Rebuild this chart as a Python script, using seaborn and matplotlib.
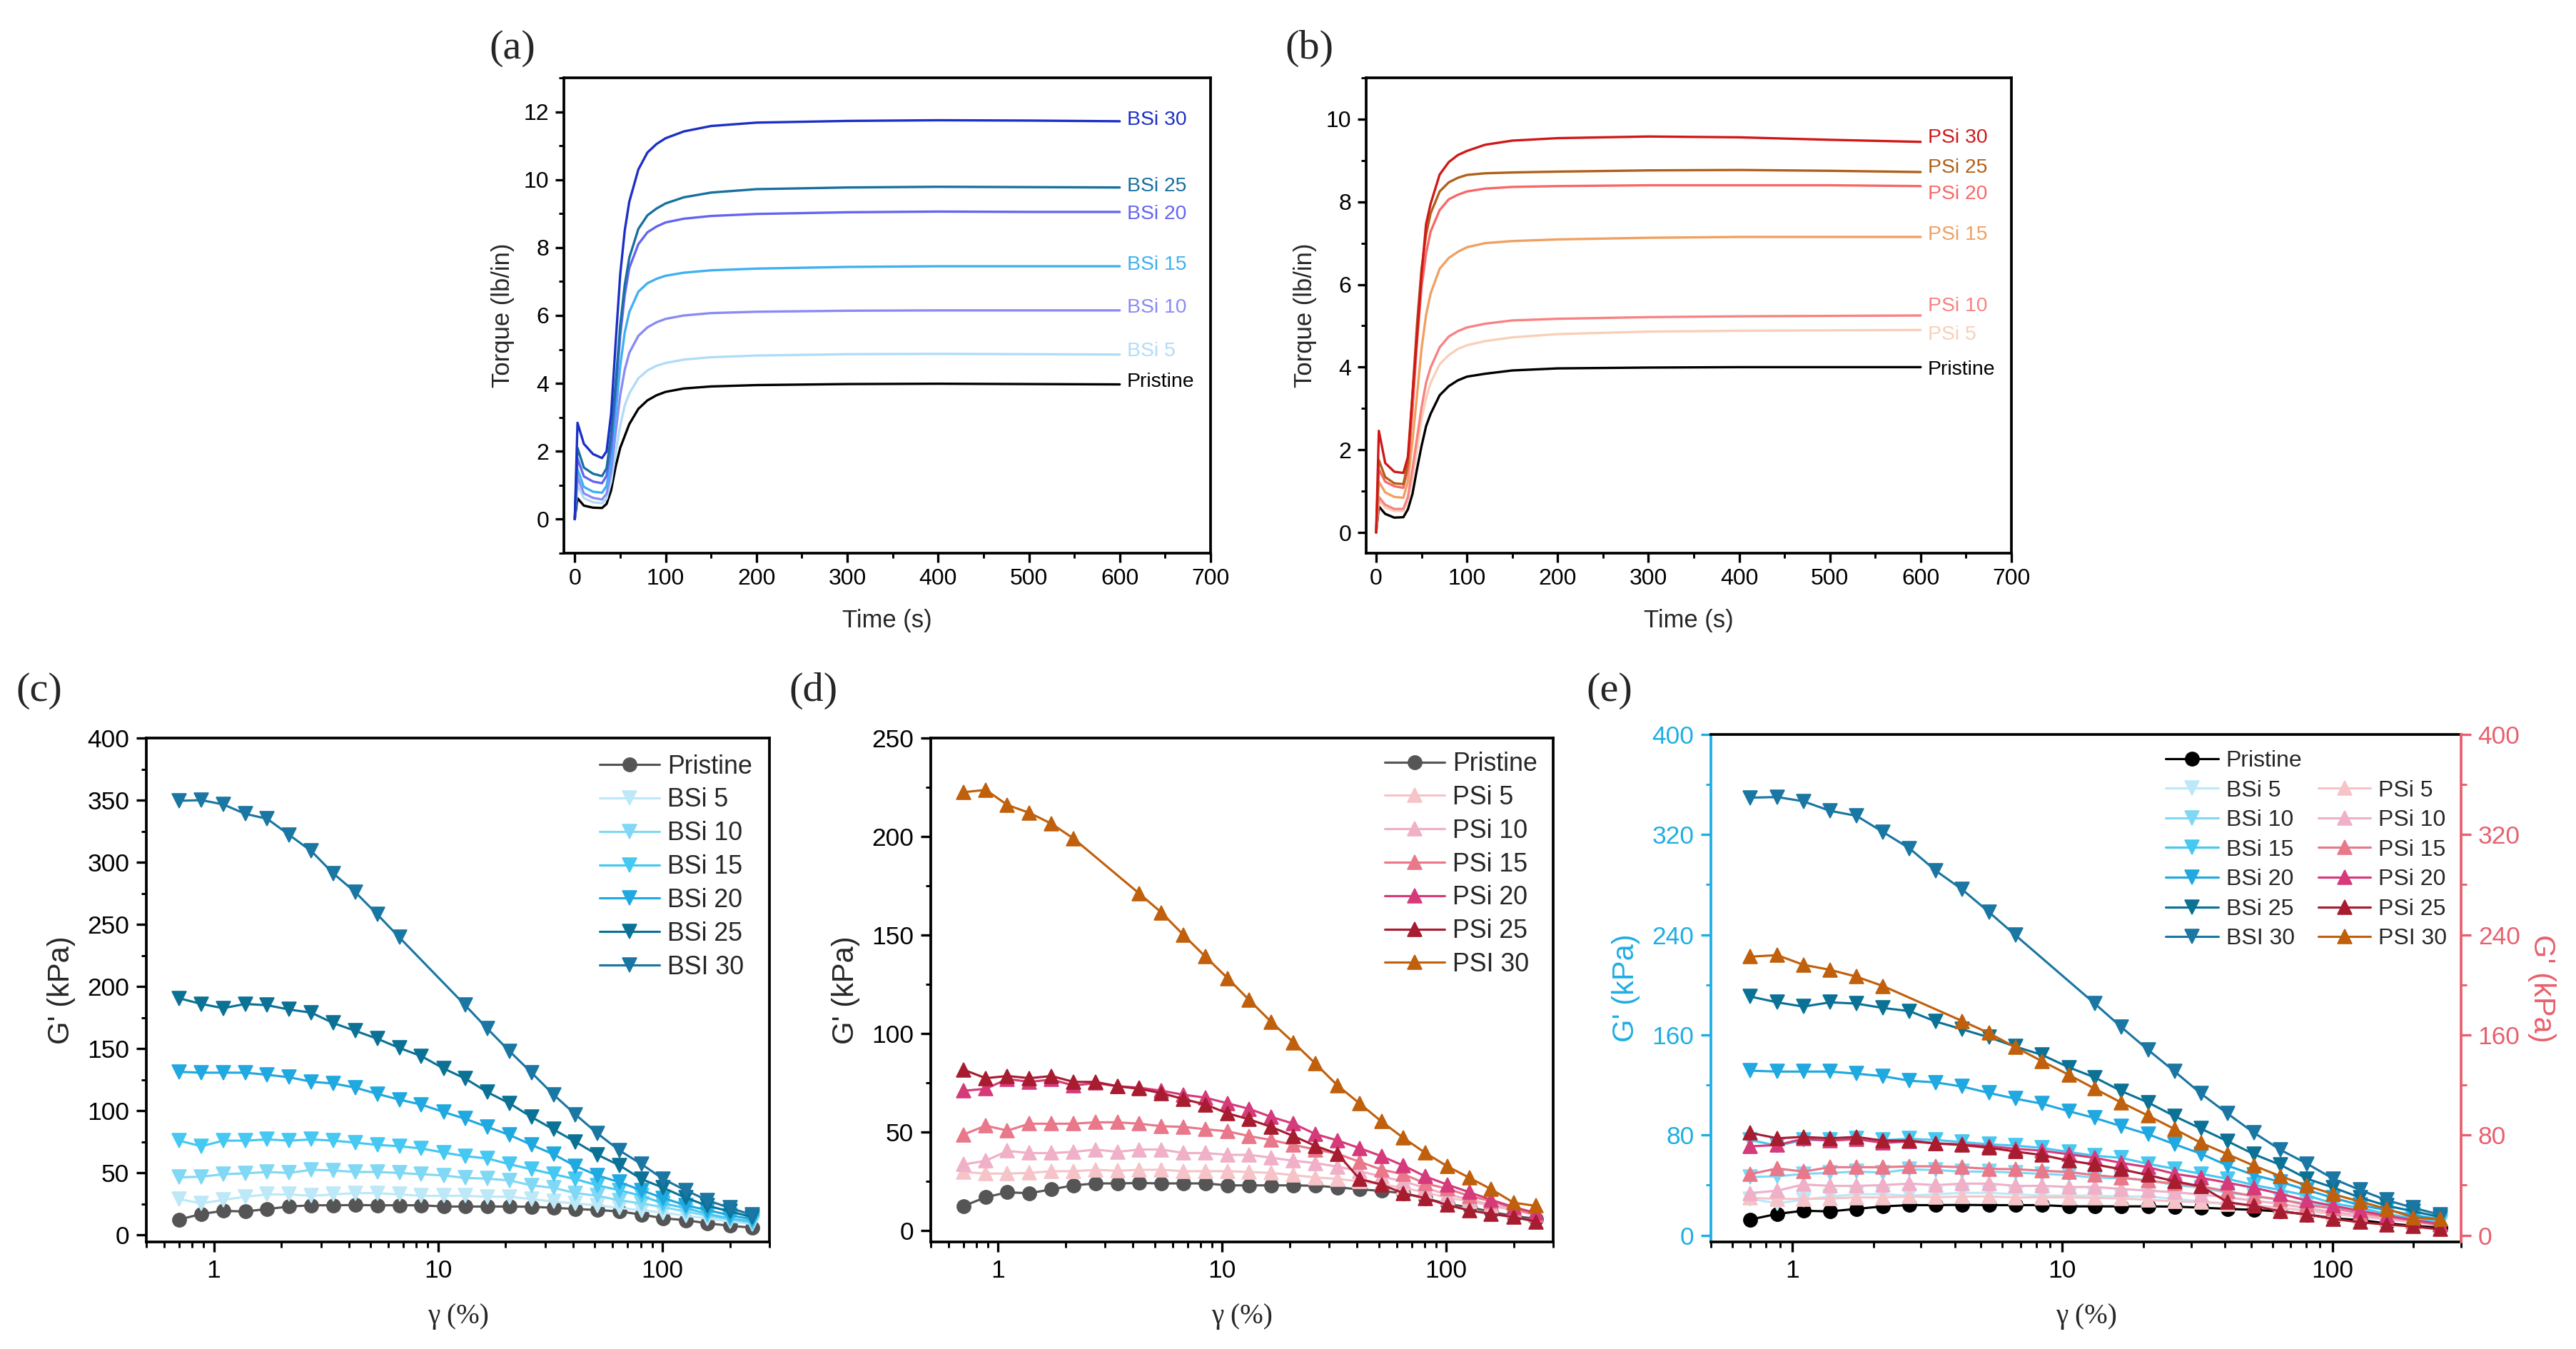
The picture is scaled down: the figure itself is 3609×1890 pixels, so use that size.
import numpy as np
import pandas as pd
import matplotlib
matplotlib.use("Agg")
import matplotlib.pyplot as plt
import matplotlib.ticker as mticker
from matplotlib.lines import Line2D
import seaborn as sns

# ---------------- data: cure curves (torque vs time) ----------------
time_s = [0, 3, 10, 20, 30, 35, 40, 45, 50, 55, 60, 70, 80, 90, 100, 120, 150, 200, 300, 400, 500, 600]

bsi_names = ["Pristine", "BSi 5", "BSi 10", "BSi 15", "BSi 20", "BSi 25", "BSi 30"]
torque_pristine_a = [0, 0.62, 0.40, 0.34, 0.33, 0.45, 0.85, 1.55, 2.10, 2.45, 2.80, 3.25, 3.50, 3.65, 3.75, 3.85, 3.91, 3.95, 3.98, 3.99, 3.98, 3.97]
torque_bsi5 = [0, 1.00, 0.62, 0.50, 0.47, 0.60, 1.10, 1.95, 2.75, 3.35, 3.70, 4.15, 4.38, 4.52, 4.60, 4.70, 4.77, 4.82, 4.86, 4.87, 4.86, 4.85]
torque_bsi10 = [0, 1.24, 0.76, 0.63, 0.58, 0.75, 1.40, 2.55, 3.65, 4.40, 4.90, 5.40, 5.65, 5.80, 5.90, 6.00, 6.07, 6.11, 6.14, 6.15, 6.15, 6.15]
torque_bsi15 = [0, 1.47, 0.95, 0.81, 0.78, 0.98, 1.75, 3.10, 4.50, 5.50, 6.10, 6.70, 6.95, 7.08, 7.17, 7.26, 7.33, 7.38, 7.43, 7.45, 7.45, 7.45]
torque_bsi20 = [0, 1.79, 1.26, 1.11, 1.06, 1.28, 2.10, 3.70, 5.40, 6.60, 7.40, 8.10, 8.45, 8.62, 8.74, 8.85, 8.93, 8.99, 9.04, 9.06, 9.05, 9.05]
torque_bsi25 = [0, 2.10, 1.52, 1.34, 1.27, 1.50, 2.50, 4.00, 5.70, 6.90, 7.70, 8.55, 8.95, 9.15, 9.30, 9.48, 9.62, 9.72, 9.77, 9.79, 9.78, 9.77]
torque_bsi30 = [0, 2.84, 2.22, 1.92, 1.80, 2.00, 3.10, 5.20, 7.20, 8.50, 9.35, 10.30, 10.80, 11.05, 11.22, 11.42, 11.58, 11.68, 11.73, 11.75, 11.74, 11.72]
bsi_label_y = [4.04, 4.94, 6.24, 7.50, 8.98, 9.80, 11.75]

psi_names = ["Pristine", "PSi 5", "PSi 10", "PSi 15", "PSi 20", "PSi 25", "PSi 30"]
torque_pristine_b = [0, 0.63, 0.45, 0.36, 0.37, 0.56, 0.93, 1.53, 2.09, 2.57, 2.87, 3.32, 3.54, 3.68, 3.77, 3.84, 3.92, 3.97, 3.99, 4.00, 4.00, 4.00]
torque_psi5 = [0, 0.78, 0.60, 0.52, 0.52, 0.78, 1.30, 1.98, 2.72, 3.25, 3.62, 4.07, 4.29, 4.44, 4.53, 4.63, 4.72, 4.80, 4.86, 4.88, 4.89, 4.90]
torque_psi10 = [0, 0.86, 0.67, 0.57, 0.57, 0.86, 1.53, 2.28, 3.02, 3.62, 3.99, 4.48, 4.74, 4.87, 4.96, 5.05, 5.13, 5.17, 5.21, 5.23, 5.24, 5.25]
torque_psi15 = [0, 1.23, 0.97, 0.86, 0.84, 1.23, 2.20, 3.32, 4.44, 5.26, 5.78, 6.38, 6.64, 6.79, 6.90, 7.00, 7.05, 7.09, 7.13, 7.15, 7.15, 7.15]
torque_psi20 = [0, 1.53, 1.23, 1.12, 1.08, 1.53, 2.95, 4.59, 5.93, 6.75, 7.28, 7.80, 8.06, 8.17, 8.25, 8.32, 8.36, 8.38, 8.40, 8.40, 8.40, 8.38]
torque_psi25 = [0, 1.75, 1.34, 1.19, 1.17, 1.68, 3.32, 5.04, 6.38, 7.20, 7.72, 8.25, 8.47, 8.58, 8.65, 8.69, 8.71, 8.73, 8.76, 8.77, 8.75, 8.72]
torque_psi30 = [0, 2.46, 1.68, 1.47, 1.44, 1.83, 3.32, 4.74, 6.23, 7.46, 7.95, 8.66, 8.96, 9.13, 9.23, 9.38, 9.48, 9.54, 9.58, 9.56, 9.50, 9.45]
psi_label_y = [3.93, 4.78, 5.47, 7.20, 8.18, 8.82, 9.55]

# ---------------- data: strain sweeps (G' vs strain) ----------------
nan = np.nan
strain = [0.70, 0.88, 1.10, 1.38, 1.73, 2.17, 2.72, 3.41, 4.27, 5.36, 6.72, 8.42, 10.6, 13.2,
          16.6, 20.8, 26.1, 32.7, 41.0, 51.4, 64.5, 80.8, 101, 127, 159, 200, 251]
g_pristine = [12.5, 17, 19.5, 19, 21, 23, 24, 24, 24.2, 24, 24, 24, 23, 23, 23, 23, 22.8, 22, 21, 20.2, 19, 16.5, 13.5, 12, 9.5, 7.5, 6]
g_bsi5 = [29, 25.5, 28.3, 30.9, 32.7, 32.7, 31.6, 32.7, 33.8, 33.8, 32.7, 31.6, 31.6, 31.6, 30.9, 30.9, 29, 27, 25.4, 24, 21.8, 20, 18, 15.6, 13.4, 11, 9]
g_bsi10 = [46.5, 47, 49, 49.7, 50.8, 50, 52.6, 52, 50.8, 50.8, 50, 49, 48, 46, 45.4, 44, 40, 38, 33.8, 31.6, 28, 25.4, 22.5, 19, 15.6, 12.7, 10]
g_bsi15 = [76, 71.5, 76, 76, 77, 76, 77, 76, 74.4, 72.6, 71.5, 69.7, 66.4, 63.5, 61.7, 57, 53, 49, 45, 40, 36, 31.6, 25.4, 21.8, 17, 13.4, 11]
g_bsi20 = [131.4, 130.7, 130.7, 130.7, 129, 127, 123.4, 122, 118.7, 113.6, 109, 105, 99, 93.6, 87, 80.6, 72.6, 65, 55.5, 48, 42.5, 36, 29.8, 24, 20, 16, 12.7]
g_bsi25 = [190.6, 186, 182.6, 186, 185, 181.5, 179, 170.6, 164.4, 158, 150.6, 144, 134, 126, 115, 106, 95, 85, 75, 64.6, 56, 45, 38, 30, 23.6, 19, 14.5]
g_bsi30 = [349.5, 350, 346.6, 339, 335, 322, 309, 291, 276, 258, 239.5, nan, nan, 185, 166, 148, 130.7, 113, 97, 81.7, 68, 57, 45, 36, 28, 21.8, 16.3]
g_psi5 = [29.8, 29, 29, 29.3, 30.2, 30.2, 30.9, 30.4, 30.9, 30.9, 30.2, 30.2, 30.2, 29.8, 29.3, 28.2, 27, 26.3, 25, 23.6, 21.7, 19.5, 16.7, 14.9, 12.6, 10.3, 8]
g_psi10 = [33.6, 35.5, 40.5, 39.4, 39.4, 40, 41.2, 40, 41.2, 41.2, 39.4, 39.4, 38.5, 38.5, 37, 35.5, 34.3, 32.5, 30.2, 27.5, 25, 21.7, 18.3, 16, 13, 10.8, 8]
g_psi15 = [48.8, 53.3, 50.8, 54.3, 54.3, 54.3, 55, 55, 54.3, 53, 52.7, 51.5, 50.4, 48, 46, 43.5, 41.2, 39, 35, 31, 28.6, 24, 21.3, 17.6, 14.9, 11.4, 8]
g_psi20 = [71, 72, 77, 75.5, 76.7, 73.7, 74.9, 73.3, 72.6, 71, 69, 67.5, 64.6, 61.8, 57.7, 54.3, 49, 45.8, 41.9, 37.8, 33, 27.5, 23.4, 19.5, 15.6, 12, 9]
g_psi25 = [81.7, 77.4, 78.5, 77.4, 78.5, 75.5, 75.5, 73.3, 72, 69.8, 66.8, 64, 59.5, 56.5, 52.6, 48, 43, 39, 26.3, 23.4, 19, 16.5, 13, 10.3, 8.5, 6.9, 4.6]
g_psi30 = [222.5, 223.7, 216, 212, 206.5, 199, nan, nan, 171, 161.4, 150, 139, 128, 117, 105.8, 95.5, 84.7, 73.7, 64.6, 55.4, 47, 39.4, 32.7, 26.8, 21, 14.2, 12.6]

sweep_bsi_labels = ["Pristine", "BSi 5", "BSi 10", "BSi 15", "BSi 20", "BSi 25", "BSI 30"]
sweep_psi_labels = ["Pristine", "PSi 5", "PSi 10", "PSi 15", "PSi 20", "PSi 25", "PSI 30"]

# ---------------- styles ----------------
torque_bsi_colors = ["#000000", "#b0dcf8", "#8a8af5", "#3fb0f0", "#6464f0", "#17709f", "#1c2fc6"]
torque_psi_colors = ["#000000", "#f8d0b8", "#f88282", "#f0a060", "#f86868", "#b0601a", "#d01818"]
sweep_bsi_colors = ["#555555", "#bde8f8", "#80d8f5", "#45c8f2", "#20a8e0", "#0b7296", "#1a76a2"]
sweep_psi_colors = ["#555555", "#f6c4c8", "#efb0c8", "#e8788a", "#d63a7a", "#a81c30", "#c0600c"]
CYAN = "#1eaee3"
RED = "#e8606e"

sns.set_style("ticks")
plt.rcParams['font.family'] = ['Liberation Sans', 'DejaVu Sans']
plt.rcParams['axes.linewidth'] = 0.9
plt.rcParams['xtick.major.width'] = 0.8
plt.rcParams['ytick.major.width'] = 0.8
plt.rcParams['xtick.minor.width'] = 0.7
plt.rcParams['ytick.minor.width'] = 0.7
plt.rcParams['axes.edgecolor'] = 'black'

W, H = 3609, 1890
fig = plt.figure(figsize=(W / 300, H / 300), dpi=300)
fig.patch.set_facecolor('white')


def add_ax(l, r, t, b):
    return fig.add_axes([l / W, 1 - b / H, (r - l) / W, (b - t) / H])


SERIF = ['Liberation Serif', 'DejaVu Serif']


def style_ticks(ax, fs, major_len=3.2, minor_len=1.7, pad=2.2):
    ax.tick_params(which='both', direction='out', top=False, right=False, labelsize=fs, pad=pad, colors='black')
    ax.tick_params(which='major', length=major_len)
    ax.tick_params(which='minor', length=minor_len)


# ---------------- panels (a), (b): torque ----------------
def torque_panel(ax, names, series, colors, label_ys, xlim, ylim):
    for name, ys, c, ly in zip(names, series, colors, label_ys):
        sns.lineplot(x=time_s, y=ys, ax=ax, color=c, linewidth=0.8, legend=False)
        ax.text(608, ly, name, color=c, fontsize=6.8, ha='left', va='center')
    ax.set_xlim(*xlim)
    ax.set_ylim(*ylim)
    ax.xaxis.set_major_locator(mticker.MultipleLocator(100))
    ax.xaxis.set_minor_locator(mticker.MultipleLocator(50))
    ax.yaxis.set_major_locator(mticker.MultipleLocator(2))
    ax.yaxis.set_minor_locator(mticker.MultipleLocator(1))
    style_ticks(ax, 7.7, major_len=3.0, minor_len=1.6, pad=2.0)
    ax.set_xlabel("Time (s)", fontsize=8.3, labelpad=6.5)
    ax.set_ylabel("Torque (lb/in)", fontsize=8.3, labelpad=3)


ax_a = add_ax(790, 1696, 109, 775)
torque_panel(ax_a, bsi_names,
             [torque_pristine_a, torque_bsi5, torque_bsi10, torque_bsi15, torque_bsi20, torque_bsi25, torque_bsi30],
             torque_bsi_colors, bsi_label_y, (-12, 700), (-1, 13))

ax_b = add_ax(1914, 2818, 109, 775)
torque_panel(ax_b, psi_names,
             [torque_pristine_b, torque_psi5, torque_psi10, torque_psi15, torque_psi20, torque_psi25, torque_psi30],
             torque_psi_colors, psi_label_y, (-11, 700), (-0.5, 11))


# ---------------- panels (c), (d), (e): strain sweeps ----------------
def sweep_line(ax, ys, color, marker, label):
    df = pd.DataFrame({"strain": strain, "G": ys}).dropna()
    sns.lineplot(data=df, x="strain", y="G", ax=ax, color=color, marker=marker, markersize=4.6,
                 markeredgecolor=color, markeredgewidth=0.4, linewidth=0.75, label=label, legend=False)


def log_x(ax):
    ax.set_xscale('log')
    ax.set_xlim(0.5, 300)
    ax.xaxis.set_major_locator(mticker.FixedLocator([1, 10, 100]))
    ax.xaxis.set_major_formatter(mticker.FixedFormatter(["1", "10", "100"]))
    ax.xaxis.set_minor_locator(mticker.LogLocator(base=10, subs=np.arange(2, 10)))
    ax.xaxis.set_minor_formatter(mticker.NullFormatter())


bsi_G = [g_pristine, g_bsi5, g_bsi10, g_bsi15, g_bsi20, g_bsi25, g_bsi30]
psi_G = [g_pristine, g_psi5, g_psi10, g_psi15, g_psi20, g_psi25, g_psi30]

# (c)
ax_c = add_ax(205, 1078, 1034, 1740)
log_x(ax_c)
for i, (ys, c, lab) in enumerate(zip(bsi_G, sweep_bsi_colors, sweep_bsi_labels)):
    sweep_line(ax_c, ys, c, 'o' if i == 0 else 'v', lab)
ax_c.set_ylim(-5.5, 400)
ax_c.yaxis.set_major_locator(mticker.MultipleLocator(50))
ax_c.yaxis.set_minor_locator(mticker.MultipleLocator(25))
style_ticks(ax_c, 8.5, major_len=3.3, minor_len=1.8, pad=2.4)
ax_c.set_xlabel("γ (%)", fontsize=9.4, family=SERIF, labelpad=7)
ax_c.set_ylabel("G' (kPa)", fontsize=10, labelpad=4)
h, l = ax_c.get_legend_handles_labels()
ax_c.legend(h, l, loc='upper left', bbox_to_anchor=(0.727, 0.968), borderaxespad=0, borderpad=0,
            frameon=False, fontsize=8.6, handlelength=2.35, handletextpad=0.3, labelspacing=0.33)

# (d)
ax_d = add_ax(1304, 2176, 1034, 1740)
log_x(ax_d)
for i, (ys, c, lab) in enumerate(zip(psi_G, sweep_psi_colors, sweep_psi_labels)):
    sweep_line(ax_d, ys, c, 'o' if i == 0 else '^', lab)
ax_d.set_ylim(-5.7, 250)
ax_d.yaxis.set_major_locator(mticker.MultipleLocator(50))
ax_d.yaxis.set_minor_locator(mticker.MultipleLocator(25))
style_ticks(ax_d, 8.5, major_len=3.3, minor_len=1.8, pad=2.4)
ax_d.set_xlabel("γ (%)", fontsize=9.4, family=SERIF, labelpad=7)
ax_d.set_ylabel("G' (kPa)", fontsize=10, labelpad=4)
h, l = ax_d.get_legend_handles_labels()
ax_d.legend(h, l, loc='upper left', bbox_to_anchor=(0.729, 0.973), borderaxespad=0, borderpad=0,
            frameon=False, fontsize=8.6, handlelength=2.35, handletextpad=0.3, labelspacing=0.33)

# (e)
ax_e = add_ax(2397, 3448, 1029, 1740)
log_x(ax_e)
ax_e2 = ax_e.twinx()
for i, (ys, c, lab) in enumerate(zip(bsi_G, sweep_bsi_colors, sweep_bsi_labels)):
    sweep_line(ax_e, ys, "#000000" if i == 0 else c, 'o' if i == 0 else 'v', lab)
for ys, c, lab in zip(psi_G[1:], sweep_psi_colors[1:], sweep_psi_labels[1:]):
    sweep_line(ax_e2, ys, c, '^', lab)
for a in (ax_e, ax_e2):
    a.set_ylim(-5.4, 400)
    a.yaxis.set_major_locator(mticker.MultipleLocator(80))
    a.yaxis.set_minor_locator(mticker.MultipleLocator(40))
ax_e.set_xlim(0.5, 300)
style_ticks(ax_e, 8.5, major_len=3.3, minor_len=1.8, pad=2.4)
ax_e.tick_params(axis='y', which='both', colors=CYAN)
ax_e2.tick_params(axis='y', which='both', direction='out', right=True, left=False, labelright=True,
                  labelleft=False, colors=RED, labelsize=8.5, pad=2.4)
ax_e2.tick_params(axis='y', which='major', length=3.3)
ax_e2.tick_params(axis='y', which='minor', length=1.8)
ax_e.spines['left'].set_color(CYAN)
ax_e.spines['right'].set_visible(False)
for s in ('left', 'top', 'bottom'):
    ax_e2.spines[s].set_visible(False)
ax_e2.spines['right'].set_color(RED)
ax_e.set_xlabel("γ (%)", fontsize=9.4, family=SERIF, labelpad=7)
ax_e.set_ylabel("G' (kPa)", fontsize=10, color=CYAN, labelpad=4)
ax_e2.set_ylabel("G' (kPa)", fontsize=10, color=RED, rotation=270, labelpad=12)
h1, l1 = ax_e.get_legend_handles_labels()
h2, l2 = ax_e2.get_legend_handles_labels()
blank = Line2D([], [], color='none', label=' ')
ax_e2.legend(h1 + [blank] + h2, l1 + [' '] + l2, ncol=2, loc='upper left',
             bbox_to_anchor=(0.606, 0.969), borderaxespad=0, borderpad=0, frameon=False,
             fontsize=7.7, handlelength=2.3, handletextpad=0.34, labelspacing=0.36, columnspacing=0.7)

# ---------------- panel letters ----------------
for txt, x, y in [("(a)", 718, 68), ("(b)", 1834, 68), ("(c)", 55, 968), ("(d)", 1140, 968), ("(e)", 2255, 968)]:
    fig.text(x / W, 1 - y / H, txt, fontsize=14, family=SERIF, ha='center', va='center')

fig.savefig("out.png", dpi=300, facecolor='white')
